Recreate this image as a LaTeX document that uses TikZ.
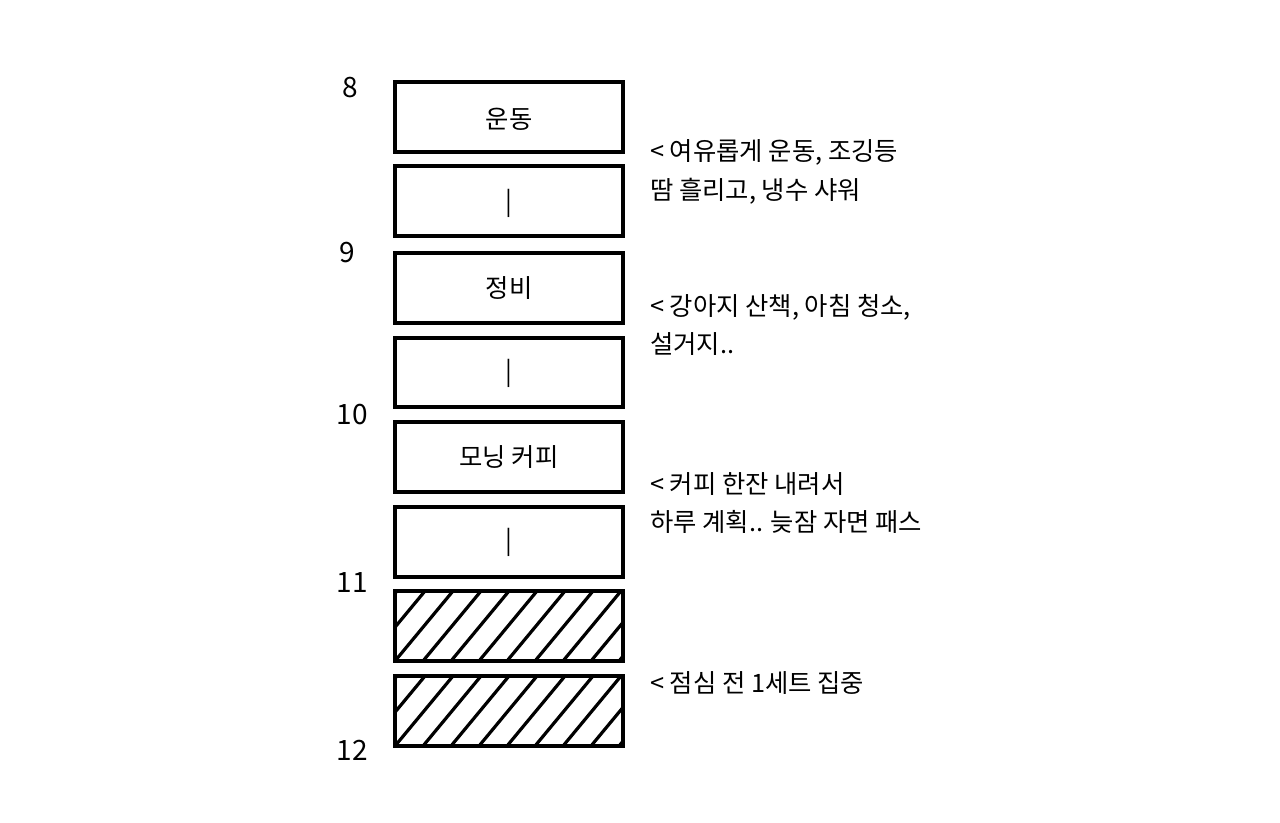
\documentclass[tikz,border=0pt]{standalone}
\usepackage{fontspec}
\setmainfont{Noto Sans CJK KR}
\begin{document}
\begin{tikzpicture}[x=0.75pt,y=-0.75pt,
  slot/.style={draw=black,line width=3pt,fill=white},
  lab/.style={font=\fontsize{19}{21}\selectfont,inner sep=0pt},
  hour/.style={font=\fontsize{21}{23}\selectfont,inner sep=0pt},
  note/.style={font=\fontsize{19}{29}\selectfont,align=left,anchor=west,inner sep=0pt},
  hatch/.style={line width=2.4pt}]
\useasboundingbox[fill=white] (0,0) rectangle (1280,823);
\foreach \n/\t/\b in {1/82/152,2/166/236,3/253/323,4/338/407,5/422/492,6/507/577,7/591/661,8/676/746}{
  \path[slot] (395,\t) rectangle (623,\b);
  \coordinate (c\n) at (509,{(\t+\b)/2});
}
\foreach \t/\b in {591/661,676/746}{
  \begin{scope}
  \clip (395,\t) rectangle (623,\b);
  \foreach \i in {-3,...,9}{
    \draw[hatch] ({395+\i*28},\b) -- ({395+\i*28+58},\t);
  }
  \end{scope}
  \draw[slot,fill=none] (395,\t) rectangle (623,\b);
}
\node[lab] (a) at (509,119) {운동};
\node[lab] (b) at (509,203) {|};
\node[lab] (c) at (509,288) {정비};
\node[lab] (d) at (509,373) {|};
\node[lab] (e) at (509,457) {모닝 커피};
\node[lab] (f) at (509,542) {|};
\node[hour] (h8) at (350,88) {8};
\node[hour] (h9) at (347,253) {9};
\node[hour] (h10) at (352,415) {10};
\node[hour] (h11) at (352,583) {11};
\node[hour] (h12) at (352,750) {12};
\node[note] (n1) at (650,172) {< 여유롭게 운동, 조깅등\\땀 흘리고, 냉수 샤워};
\node[note] (n2) at (650,325) {< 강아지 산책, 아침 청소,\\설거지..};
\node[note] (n3) at (650,503) {< 커피 한잔 내려서\\하루 계획.. 늦잠 자면 패스};
\node[note] (n4) at (650,683) {< 점심 전 1세트 집중};
\end{tikzpicture}
\end{document}
